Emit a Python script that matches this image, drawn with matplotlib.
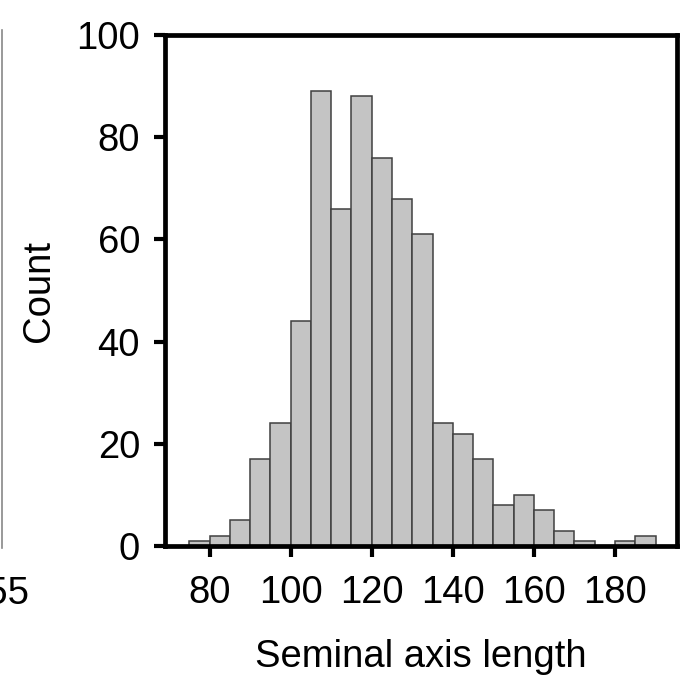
import matplotlib
matplotlib.use("Agg")
import matplotlib.pyplot as plt
from matplotlib.lines import Line2D
import numpy as np

# histogram of seminal axis length, 5-unit bins
bin_left = [75, 80, 85, 90, 95, 100, 105, 110, 115, 120, 125, 130,
            135, 140, 145, 150, 155, 160, 165, 170, 175, 180, 185]
counts = [1, 2, 5, 17, 24, 44, 89, 66, 88, 76, 68, 61,
          24, 22, 17, 8, 10, 7, 3, 1, 0, 1, 2]
x_ticks = [80, 100, 120, 140, 160, 180]
y_ticks = [0, 20, 40, 60, 80, 100]

plt.rcParams['font.family'] = ['Liberation Sans', 'DejaVu Sans']

W, H = 683, 685
fig = plt.figure(figsize=(W / 100, H / 100), dpi=100)
ax = fig.add_axes([165 / W, (H - 546) / H, 512 / W, 511 / H])

ax.bar(bin_left, counts, width=5, align='edge',
       color='#c4c4c4', edgecolor='#404040', linewidth=1.1, zorder=2)

ax.set_xlim(69, 195.3)
ax.set_ylim(0, 100)
ax.set_xticks(x_ticks)
ax.set_yticks(y_ticks)

for s in ax.spines.values():
    s.set_linewidth(3.4)
    s.set_color('black')
    s.set_zorder(3)
ax.tick_params(direction='out', length=8, width=3, labelsize=27.5, pad=10,
               colors='black')
ax.tick_params(axis='x', pad=13)

ax.set_xlabel('Seminal axis length', fontsize=27.5, labelpad=20)
ax.set_ylabel('Count', fontsize=27.5, labelpad=14)

# edge of the neighbouring panel, cut off by the crop
fig.add_artist(Line2D([1.5 / W, 1.5 / W], [(H - 548) / H, (H - 30) / H],
                      color='#888888', linewidth=1.2))
fig.text(29 / W, (H - 594) / H, '155', fontsize=27.5, ha='right', va='center')

fig.savefig('out.png', dpi=100)
